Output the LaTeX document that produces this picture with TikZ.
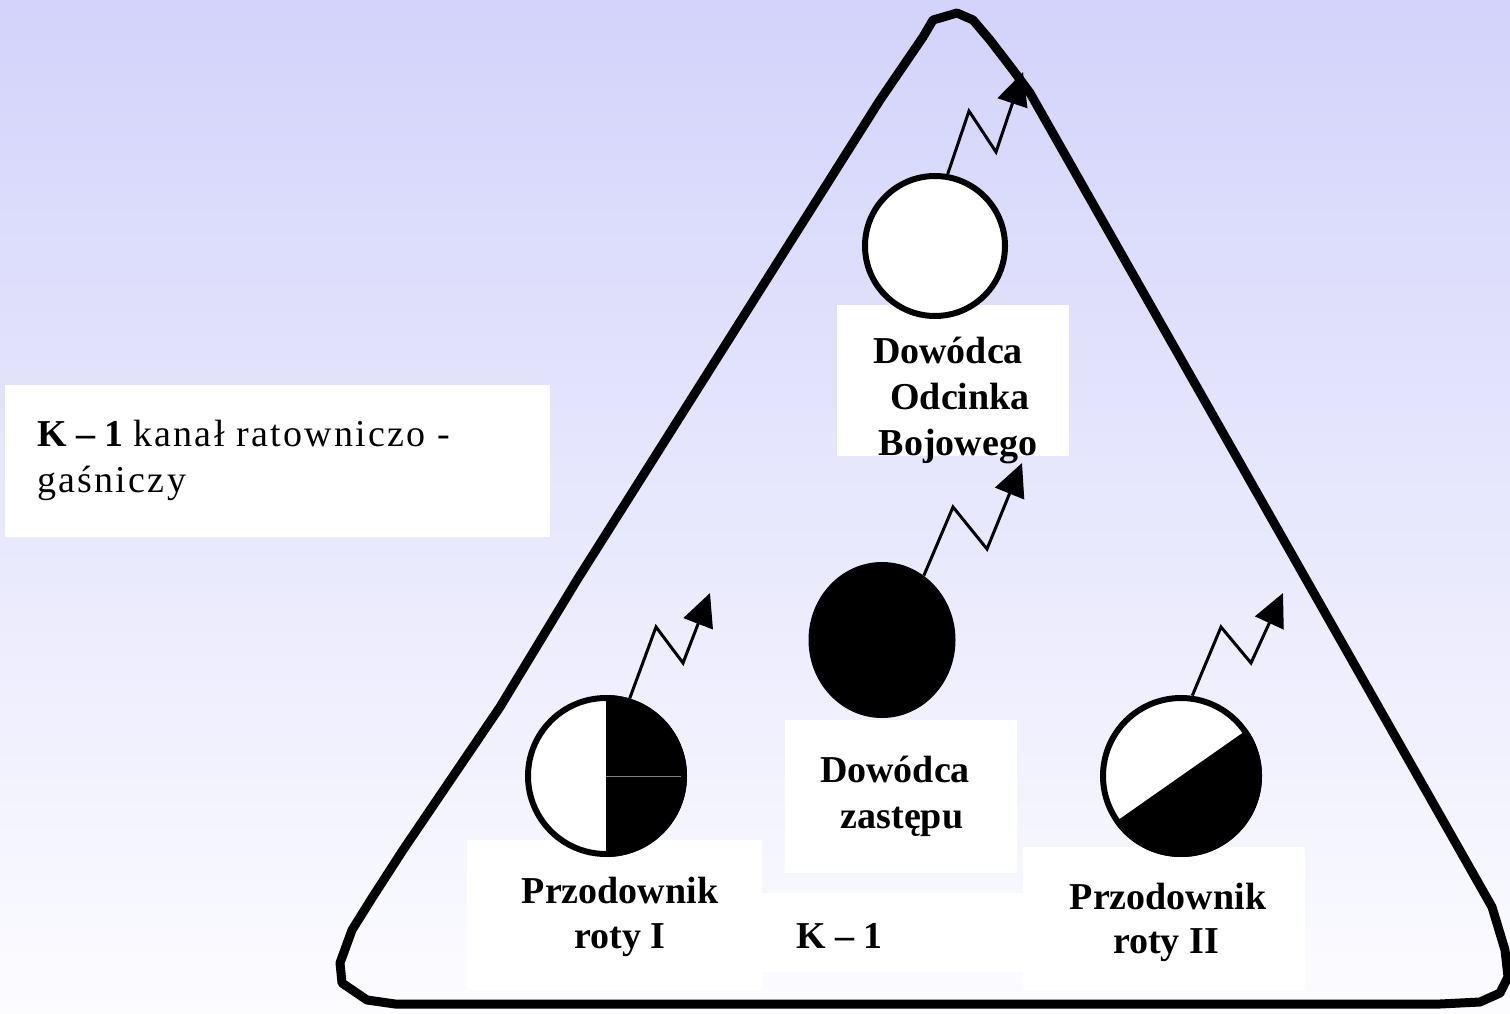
\documentclass[tikz,border=0pt]{standalone}
\usepackage{fontspec}
\setmainfont{Liberation Serif}
\usetikzlibrary{arrows.meta,shapes.geometric}
\definecolor{bgtop}{RGB}{211,211,251}
\definecolor{bgbot}{RGB}{252,252,255}
\tikzset{
  lbl/.style={anchor=base, inner sep=0pt, font=\fontsize{38}{46}\selectfont\bfseries},
  legend/.style={anchor=base west, inner sep=0pt, font=\fontsize{38}{46}\selectfont},
  wbox/.style={fill=white, draw=none},
  tri/.style={line width=9pt, line join=round, line cap=round},
  ring/.style={line width=6pt},
  zz/.style={line width=3pt, line join=miter, -{Triangle[length=33pt,width=31pt]}},
}
\begin{document}
\begin{tikzpicture}[x=1pt,y=-1pt]
\useasboundingbox (0,0) rectangle (1510,1014);
\shade[top color=bgtop, bottom color=bgbot] (0,0) rectangle (1510,1014);

% white label boxes
\fill[wbox] (5,385) rectangle (550,537);
\fill[wbox] (837,305) rectangle (1069,456);
\fill[wbox] (467,840) rectangle (762,990);
\fill[wbox] (785,720) rectangle (1017,873);
\fill[wbox] (762,893) rectangle (1023,972);
\fill[wbox] (1023,847) rectangle (1305,990);

% triangle
\draw[tri] (395,1004) -- (1440,1004) -- (1480,1002) -- (1500,993) -- (1508,977)
  -- (1505,950) -- (1492,907) -- (1030,93) -- (1013,70) -- (990,40) -- (973,20)
  -- (957,13) -- (933,20) -- (923,37) -- (880,100) -- (577,580) -- (500,707)
  -- (403,850) -- (372,898) -- (352,930) -- (340,963) -- (342,983) -- (367,1000) -- cycle;

% top circle (Dowodca Odcinka Bojowego)
\node[circle, draw, ring, fill=white, minimum size=140pt, inner sep=0pt] (odb) at (935,246) {};
% black (Dowodca zastepu)
\node[ellipse, fill=black, minimum width=147pt, minimum height=156pt, inner sep=0pt] (dz) at (882,640) {};
% Przodownik roty I
\node[circle, minimum size=162pt, inner sep=0pt] (pr1) at (606,776) {};
\fill[white] (pr1.center) circle (81);
\fill[black] (pr1.center) ++(90:81) arc[start angle=90, end angle=-90, radius=81] -- cycle;
\draw[gray, line width=1pt] (pr1.center) -- (pr1.east);
\draw[ring] (pr1.center) circle (78);
% Przodownik roty II
\node[circle, minimum size=162pt, inner sep=0pt] (pr2) at (1181,776) {};
\fill[white] (pr2.center) circle (81);
\fill[black] (pr2.center) ++(-35:81) arc[start angle=-35, end angle=145, radius=81] -- cycle;
\draw[ring] (pr2.center) circle (78);

% tips
\coordinate (t1) at (1023,72);
\coordinate (t2) at (1022,463);
\coordinate (t3) at (710,593);
\coordinate (t4) at (1283,593);

% zigzag radio links
\draw[zz] (odb.80) -- (969,111) -- (996,152) -- (t1);
\draw[zz] (dz.57) -- (953,507) -- (987,549) -- (t2);
\draw[zz] (pr1.73) -- (656,627) -- (683,663) -- (t3);
\draw[zz] (pr2.82) -- (1221,627) -- (1251,663) -- (t4);

% labels
\node[lbl] (l1a) at (948,363) {Dowódca};
\node[lbl] (l1b) at (960,409) {Odcinka};
\node[lbl] (l1c) at (958,455) {Bojowego};
\node[lbl] (l2a) at (895,782) {Dowódca};
\node[lbl] (l2b) at (902,828) {zastępu};
\node[lbl] (l3a) at (620,903) {Przodownik};
\node[lbl] (l3b) at (620,948) {roty I};
\node[lbl] (l4a) at (1168,909) {Przodownik};
\node[lbl] (l4b) at (1166,953) {roty II};
\node[lbl, anchor=base west] (k1) at (796,948) {K – 1};
\node[legend] (lg1) at (37,446) {\textbf{K – 1} {\addfontfeatures{LetterSpace=6}kanał ratowniczo -}};
\node[legend] (lg2) at (37,492) {{\addfontfeatures{LetterSpace=6}gaśniczy}};
\end{tikzpicture}
\end{document}
